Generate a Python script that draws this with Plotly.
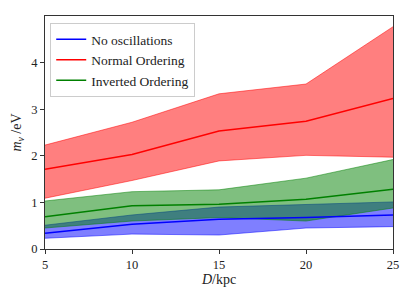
import plotly.graph_objects as go

distance_kpc = [5, 10, 15, 20, 25]

no_osc_mid = [0.34, 0.53, 0.64, 0.675, 0.73]
no_osc_low = [0.23, 0.32, 0.30, 0.45, 0.48]
no_osc_high = [0.51, 0.73, 0.90, 0.96, 1.01]

normal_mid = [1.71, 2.03, 2.53, 2.74, 3.23]
normal_low = [1.09, 1.47, 1.89, 2.01, 1.97]
normal_high = [2.23, 2.72, 3.33, 3.54, 4.77]

inverted_mid = [0.69, 0.93, 0.96, 1.07, 1.28]
inverted_low = [0.45, 0.60, 0.675, 0.60, 0.88]
inverted_high = [1.03, 1.23, 1.27, 1.52, 1.92]

x_ticks = [5, 10, 15, 20, 25]
y_ticks = [0, 1, 2, 3, 4]

series = [
    ("No oscillations", no_osc_mid, no_osc_low, no_osc_high, "#0000ff", "rgba(0,0,255,0.5)"),
    ("Normal Ordering", normal_mid, normal_low, normal_high, "#ff0000", "rgba(255,0,0,0.5)"),
    ("Inverted Ordering", inverted_mid, inverted_low, inverted_high, "#008000", "rgba(0,128,0,0.5)"),
]

FONT = "Liberation Serif"
fig = go.Figure()

for name, mid, low, high, col, fillc in series:
    fig.add_trace(go.Scatter(x=distance_kpc, y=low, mode="lines",
                             line=dict(color=fillc, width=1), showlegend=False, hoverinfo="skip"))
    fig.add_trace(go.Scatter(x=distance_kpc, y=high, mode="lines", fill="tonexty",
                             fillcolor=fillc, line=dict(color=fillc, width=1),
                             showlegend=False, hoverinfo="skip"))

for name, mid, low, high, col, fillc in series:
    fig.add_trace(go.Scatter(x=distance_kpc, y=mid, mode="lines", name=name,
                             line=dict(color=col, width=1.5)))

axis_common = dict(showline=True, linecolor="#333", linewidth=1, mirror=True,
                   ticks="outside", ticklen=4, tickcolor="#333", showgrid=False,
                   zeroline=False, tickfont=dict(family=FONT, size=12.5, color="#222"))

fig.update_layout(
    width=407, height=289,
    margin=dict(l=34, r=22, t=7, b=48),
    paper_bgcolor="white", plot_bgcolor="white",
    font=dict(family=FONT, size=12, color="#222"),
    xaxis=dict(range=[5, 25], tickvals=x_ticks,
               title=dict(text="<i>D</i>/kpc", font=dict(family=FONT, size=14), standoff=0),
               **axis_common),
    yaxis=dict(range=[0, 5.0], tickvals=y_ticks,
               title=dict(text="<i>m</i><sub><i>ν</i></sub> /eV", font=dict(family=FONT, size=14), standoff=6),
               **axis_common),
    legend=dict(x=0.015, y=0.97, xanchor="left", yanchor="top", traceorder="normal",
                bgcolor="rgba(255,255,255,0.8)", bordercolor="#cccccc", borderwidth=1,
                font=dict(family=FONT, size=13.5, color="#222"), itemwidth=30,
                tracegroupgap=0),
    showlegend=True,
)

fig.write_html("out.html")
